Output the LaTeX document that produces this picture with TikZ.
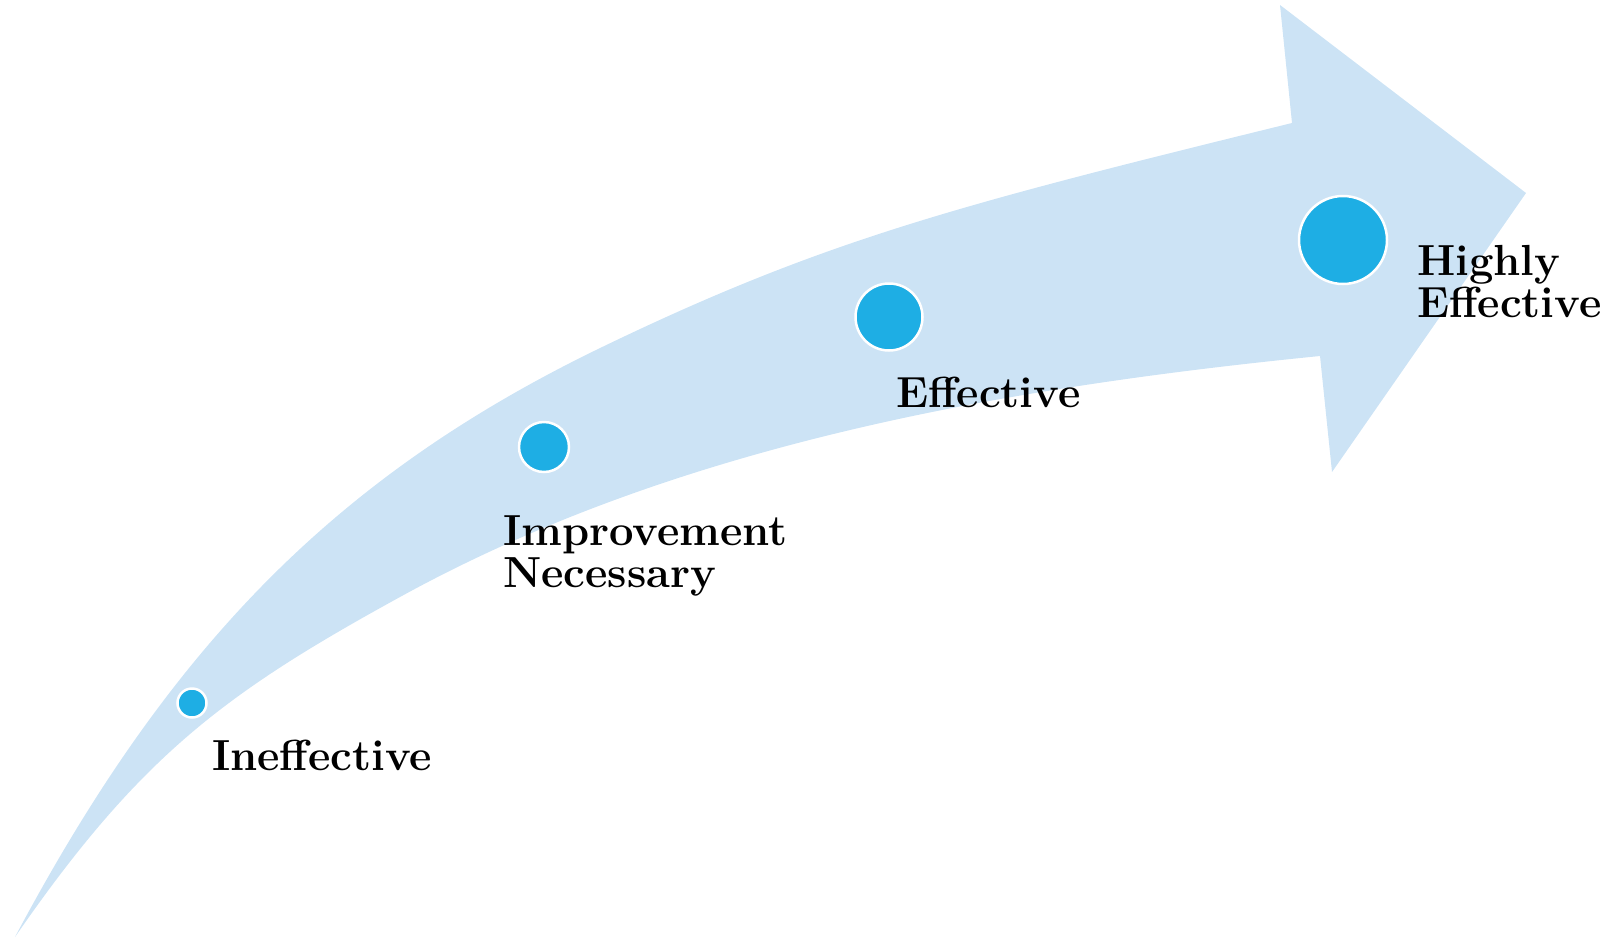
\documentclass[tikz,border=0pt]{standalone}
\begin{document}
\begin{tikzpicture}[x=1pt,y=-1pt,
  arrowfill/.style={fill=arrowblue},
  dot/.style={circle,fill=dotblue,draw=white,line width=2.5pt,inner sep=0pt},
  lbl/.style={font=\fontsize{43.5}{42}\selectfont\bfseries,align=left,inner sep=0pt,anchor=base west,text=black}]
\definecolor{arrowblue}{RGB}{204,227,245}
\definecolor{dotblue}{RGB}{30,174,228}
\useasboundingbox (0,0) rectangle (1611,937);
% curved arrow
\coordinate (tail) at (15,937);
\coordinate (um) at (602.4,346.9);
\coordinate (un) at (1292,123);
\coordinate (ht) at (1280,5);
\coordinate (tip) at (1526,193);
\coordinate (hb) at (1332,472);
\coordinate (ln) at (1320,356);
\coordinate (lm) at (400,597);
\fill[arrowfill] (tail) .. controls (170.1,645.4) and (336.7,475.1) .. (um)
  .. controls (824,240) and (957,205.3) .. (un)
  -- (ht) -- (tip) -- (hb) -- (ln)
  .. controls (1005,387.5) and (678,444) .. (lm)
  .. controls (225,693) and (140,756) .. (tail) -- cycle;
% dots
\node[dot,minimum size=29pt] (d1) at (192,703) {};
\node[dot,minimum size=50pt] (d2) at (544,447) {};
\node[dot,minimum size=67pt] (d3) at (889,317) {};
\node[dot,minimum size=88pt] (d4) at (1343,240) {};
% labels
\node[lbl] (l1) at (212,770) {Ineffective};
\node[lbl] (l2) at (503,587) {Improvement\\Necessary};
\node[lbl] (l3) at (896,407) {Effective};
\node[lbl] (l4) at (1417,317) {Highly\\Effective};
\end{tikzpicture}
\end{document}
